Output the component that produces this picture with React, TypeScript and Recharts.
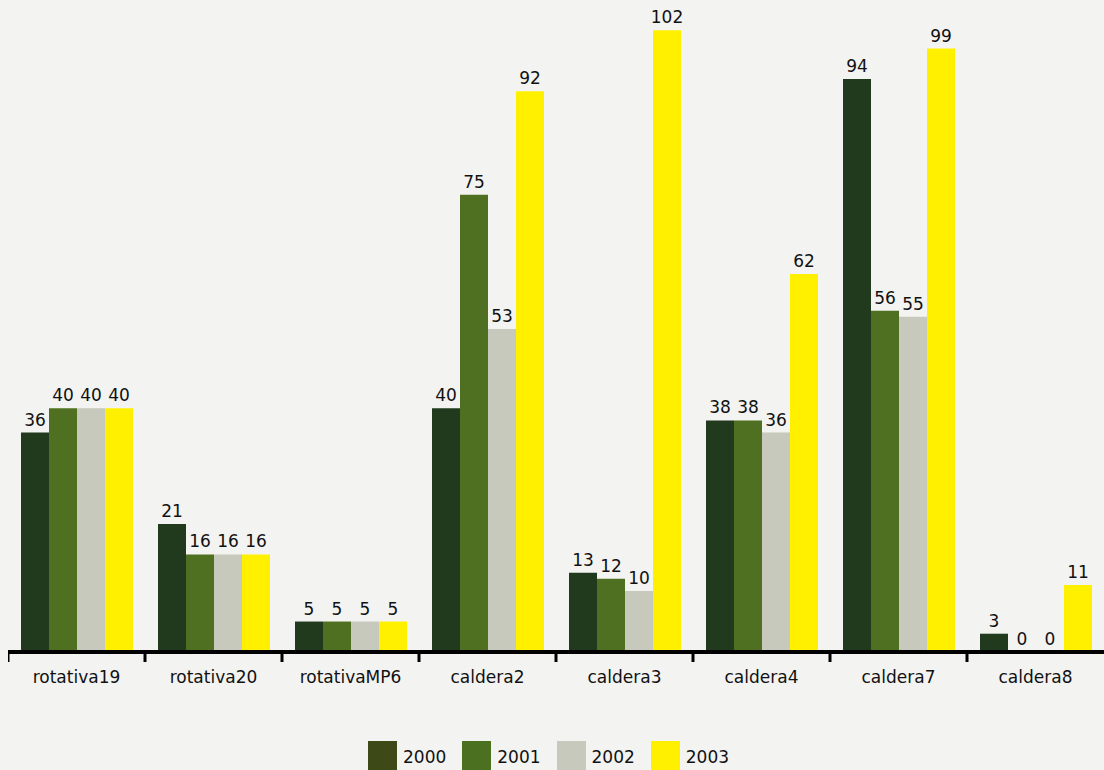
import React from 'react';
import { BarChart, Bar, XAxis, YAxis, LabelList } from 'recharts';

const categories = ['rotativa19', 'rotativa20', 'rotativaMP6', 'caldera2', 'caldera3', 'caldera4', 'caldera7', 'caldera8'];
const y2000 = [36, 21, 5, 40, 13, 38, 94, 3];
const y2001 = [40, 16, 5, 75, 12, 38, 56, 0];
const y2002 = [40, 16, 5, 53, 10, 36, 55, 0];
const y2003 = [40, 16, 5, 92, 102, 62, 99, 11];
const seriesNames = ['2000', '2001', '2002', '2003'];

const barColors = ['#213a1e', '#4f7021', '#c6c9bb', '#fff000'];
const legendColors = ['#3d4a18', '#4b7020', '#c6c9bb', '#fff000'];

const CHART_W = 1096;
const CHART_H = 770;
const TOP = 12;
const AXIS_Y = 652;
const BAND = CHART_W / categories.length;
const FONT = '"DejaVu Sans", sans-serif';

// one row per category for recharts
const data = categories.map((name, i) => ({
  name,
  '2000': y2000[i],
  '2001': y2001[i],
  '2002': y2002[i],
  '2003': y2003[i],
}));

// tick mark sits on the left edge of each category, label in the middle
const CategoryTick = (props: any) => {
  const { x, payload } = props;
  const left = x - BAND / 2;
  return (
    <g>
      <line x1={left} x2={left} y1={AXIS_Y} y2={AXIS_Y + 10} stroke="#000" strokeWidth={3} />
      <text x={x} y={AXIS_Y + 31} textAnchor="middle" fontSize={17} fontFamily={FONT} fill="#111">
        {payload.value}
      </text>
    </g>
  );
};

// zero values still get a (near invisible) bar so their "0" label is drawn
const zeroMin = (value: any) => (value === 0 ? 0.3 : 0);

export default function App() {
  return (
    <div style={{ position: 'absolute', left: 0, top: 0, width: 1104, height: 770, background: '#f3f3f1', overflow: 'hidden' }}>
      <div style={{ position: 'absolute', left: 8, top: 0 }}>
        <BarChart
          width={CHART_W}
          height={CHART_H}
          data={data}
          margin={{ top: TOP, right: 0, left: 0, bottom: 0 }}
          barCategoryGap={13}
          barGap={0}
        >
          <XAxis
            dataKey="name"
            height={CHART_H - AXIS_Y}
            axisLine={{ stroke: '#000', strokeWidth: 4 }}
            tickLine={false}
            tick={<CategoryTick />}
            interval={0}
          />
          <YAxis hide domain={[0, 105]} />
          {seriesNames.map((s, i) => (
            <Bar key={s} dataKey={s} fill={barColors[i]} minPointSize={zeroMin} isAnimationActive={false}>
              <LabelList dataKey={s} position="top" offset={7} fill="#111" fontSize={17} fontFamily={FONT} />
            </Bar>
          ))}
        </BarChart>
      </div>
      <div style={{ position: 'absolute', left: 368, top: 741, display: 'flex', fontFamily: FONT, fontSize: 17, color: '#111' }}>
        {seriesNames.map((s, i) => (
          <div key={s} style={{ display: 'flex', alignItems: 'center', marginRight: 16 }}>
            <div style={{ width: 29, height: 29, background: legendColors[i] }} />
            <span style={{ marginLeft: 6, paddingTop: 3 }}>{s}</span>
          </div>
        ))}
      </div>
    </div>
  );
}
